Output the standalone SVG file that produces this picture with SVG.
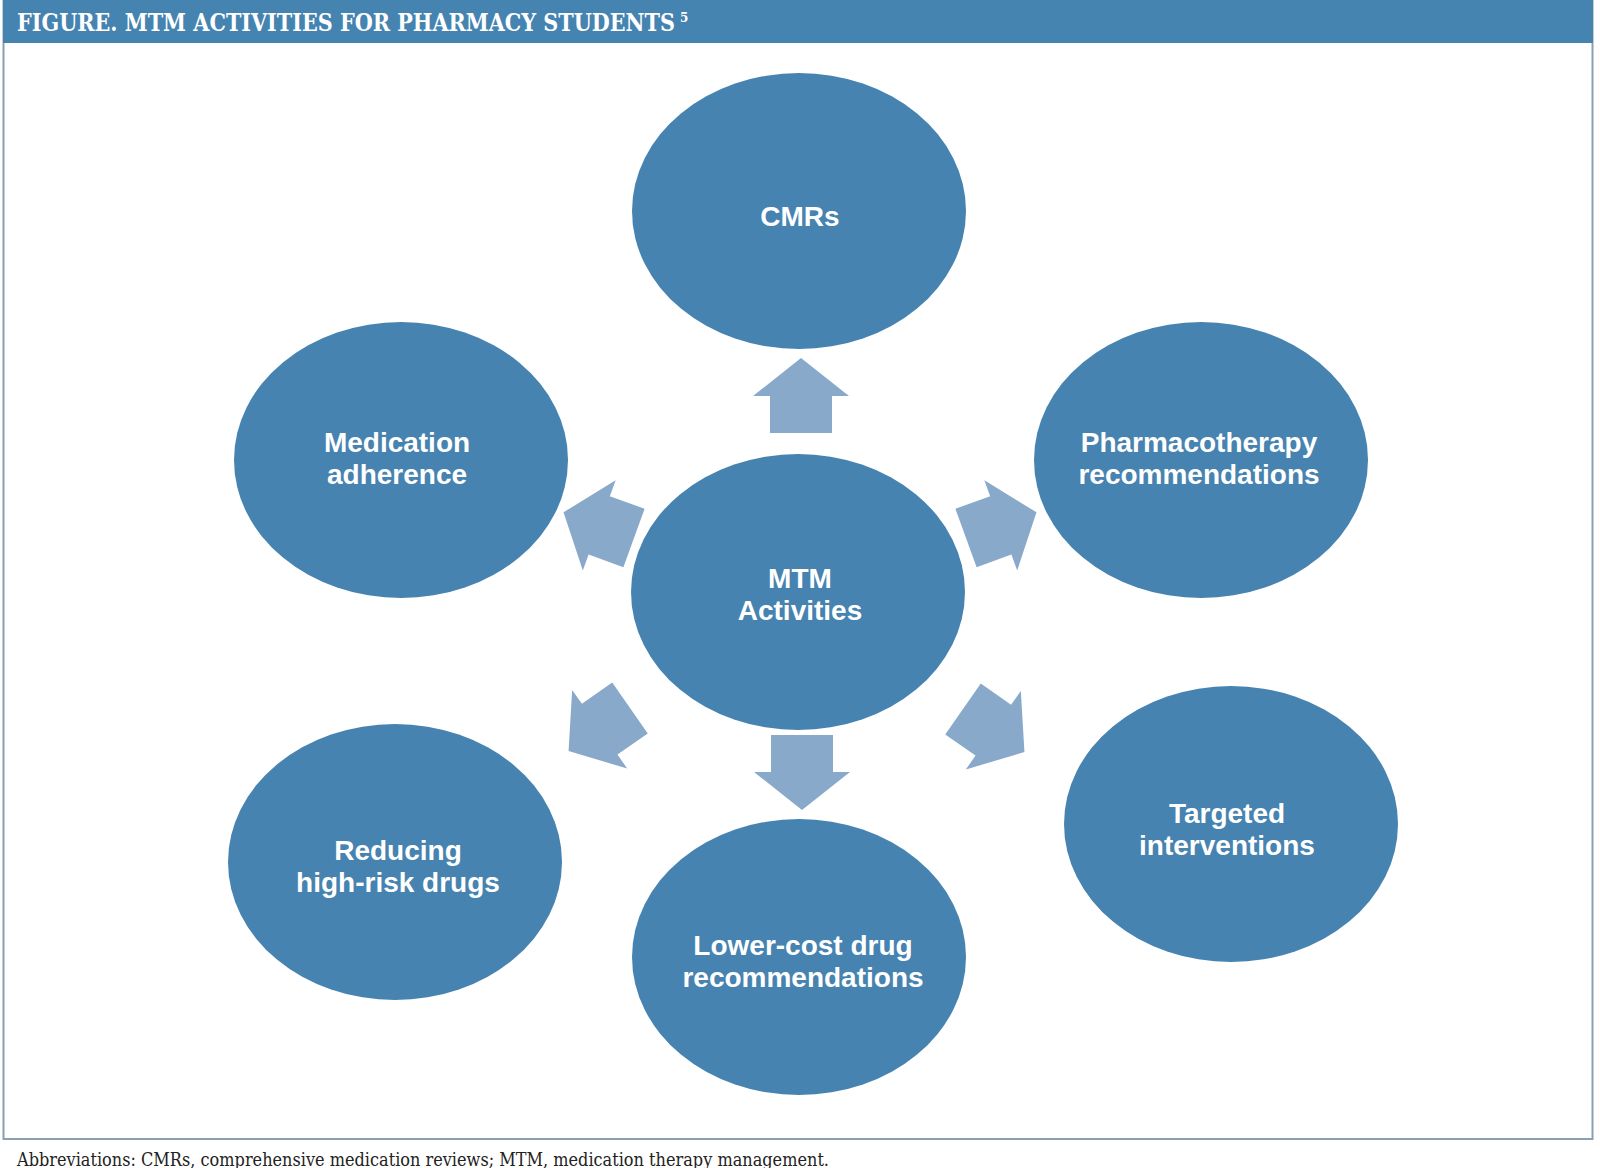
<svg xmlns="http://www.w3.org/2000/svg" width="1600" height="1168" viewBox="0 0 1600 1168">
<defs>
<style>
.node{fill:#4683b0}
.lbl{font-family:"Liberation Sans",Arial,sans-serif;font-weight:bold;font-size:28px;fill:#fff;text-anchor:middle}
.arr{fill:#88a9c9}
.title{font-family:"DejaVu Serif","Liberation Serif",serif;font-weight:bold;font-size:24px;fill:#fff}
.sup{font-size:12px}
.foot{font-family:"DejaVu Serif","Liberation Serif",serif;font-size:18px;fill:#222}
</style>
<path id="ar" d="M0,-75 L48,-37 L31,-37 L31,0 L-31,0 L-31,-37 L-48,-37 Z"/>
</defs>
<rect x="0" y="0" width="1600" height="1168" fill="#fff"/>
<rect x="3.5" y="-2" width="1589" height="1141" fill="#fff" stroke="#8aa0b2" stroke-width="2"/>
<rect x="3" y="0" width="1590" height="43" fill="#4583b0"/>
<text class="title" x="17" y="31"><tspan textLength="658" lengthAdjust="spacingAndGlyphs">FIGURE. MTM ACTIVITIES FOR PHARMACY STUDENTS</tspan><tspan class="sup" dx="5" dy="-9">5</tspan></text>
<g id="connectors">
<use href="#ar" class="arr" transform="translate(801,433)"/>
<use href="#ar" class="arr" transform="translate(802,735) rotate(180)"/>
<use href="#ar" class="arr" transform="translate(634,538) rotate(-70)"/>
<use href="#ar" class="arr" transform="translate(966,538) rotate(70)"/>
<use href="#ar" class="arr" transform="translate(630,708) rotate(-125)"/>
<use href="#ar" class="arr" transform="translate(963,709) rotate(125)"/>
</g>
<g id="cmrs"><ellipse class="node" cx="799" cy="211" rx="167" ry="138"/><text class="lbl" x="800" y="226">CMRs</text></g>
<g id="adherence"><ellipse class="node" cx="401" cy="460" rx="167" ry="138"/><text class="lbl" x="397" y="452">Medication</text><text class="lbl" x="397" y="484">adherence</text></g>
<g id="pharmaco"><ellipse class="node" cx="1201" cy="460" rx="167" ry="138"/><text class="lbl" x="1199" y="452">Pharmacotherapy</text><text class="lbl" x="1199" y="484">recommendations</text></g>
<g id="mtm"><ellipse class="node" cx="798" cy="592" rx="167" ry="138"/><text class="lbl" x="800" y="588">MTM</text><text class="lbl" x="800" y="620">Activities</text></g>
<g id="reducing"><ellipse class="node" cx="395" cy="862" rx="167" ry="138"/><text class="lbl" x="398" y="860">Reducing</text><text class="lbl" x="398" y="892">high-risk drugs</text></g>
<g id="lowercost"><ellipse class="node" cx="799" cy="957" rx="167" ry="138"/><text class="lbl" x="803" y="955">Lower-cost drug</text><text class="lbl" x="803" y="987">recommendations</text></g>
<g id="targeted"><ellipse class="node" cx="1231" cy="824" rx="167" ry="138"/><text class="lbl" x="1227" y="823">Targeted</text><text class="lbl" x="1227" y="855">interventions</text></g>
<text class="foot" x="17" y="1166" textLength="812" lengthAdjust="spacingAndGlyphs">Abbreviations: CMRs, comprehensive medication reviews; MTM, medication therapy management.</text>
</svg>
